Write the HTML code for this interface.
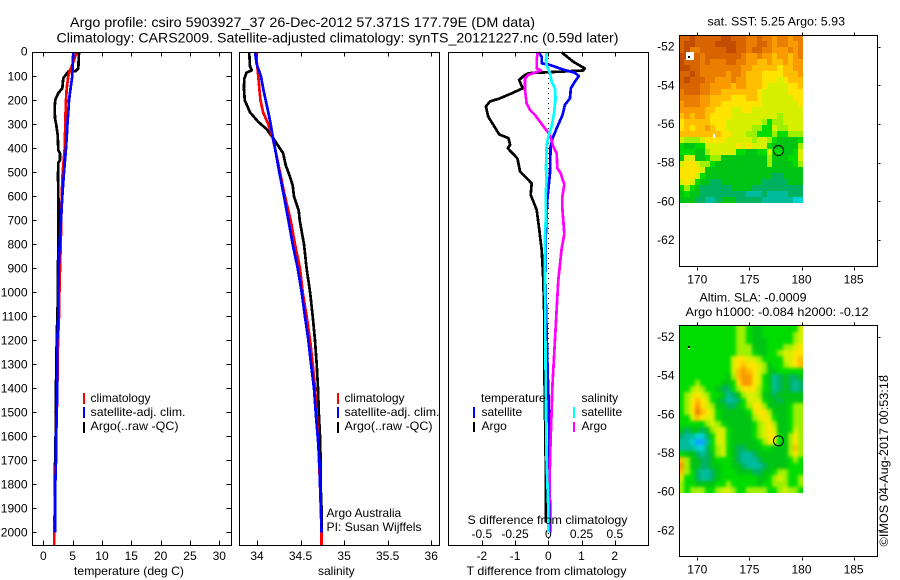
<!DOCTYPE html>
<html lang="en">
<head>
<meta charset="utf-8">
<title>Argo profile 5903927_37</title>
<style>
html,body{margin:0;padding:0;background:#fff;width:900px;height:580px;overflow:hidden}
svg{display:block}
text{font-family:"Liberation Sans",Arial,sans-serif;font-size:12px;fill:#000}
.ttl{font-size:14px}
.frame{fill:none;stroke:#000;stroke-width:1;shape-rendering:crispEdges}
</style>
</head>
<body>
<svg id="chart" width="900" height="580" viewBox="0 0 900 580" xmlns="http://www.w3.org/2000/svg">
  <defs>
    <filter id="soften" x="0" y="0" width="100%" height="100%" color-interpolation-filters="sRGB">
      <feGaussianBlur stdDeviation="1.6"/>
      <feComponentTransfer>
        <feFuncA type="discrete" tableValues="0 1 1 1"/>
      </feComponentTransfer>
    </filter>
  </defs>
  <rect x="0" y="0" width="900" height="580" fill="#fff"/>
  <text class="ttl" x="70" y="27" textLength="465" lengthAdjust="spacingAndGlyphs">Argo profile: csiro 5903927_37 26-Dec-2012 57.371S 177.79E (DM data)</text>
  <text class="ttl" x="56.5" y="42.5" textLength="562" lengthAdjust="spacingAndGlyphs">Climatology: CARS2009. Satellite-adjusted climatology: synTS_20121227.nc (0.59d later)</text>

  <g id="p1"></g>
  <g id="p2"></g>
  <g id="p3"></g>
  <g id="m1"></g>
  <g id="m2"></g>

  <rect class="frame" x="32.5" y="52.5" width="199" height="493"/>
  <rect class="frame" x="239.5" y="52.5" width="200" height="493"/>
  <rect class="frame" x="448.5" y="52.5" width="200" height="493"/>
  <rect class="frame" x="679.5" y="35.5" width="198" height="231"/>
  <rect class="frame" x="679.5" y="325.5" width="198" height="231"/>

  <text x="74" y="575" textLength="110" lengthAdjust="spacingAndGlyphs">temperature (deg C)</text>
  <text x="318" y="575">salinity</text>
  <text x="466.5" y="575" textLength="160" lengthAdjust="spacingAndGlyphs">T difference from climatology</text>
  <text x="467.5" y="524" textLength="160" lengthAdjust="spacingAndGlyphs">S difference from climatology</text>

  <g shape-rendering="crispEdges">
    <rect x="83" y="393" width="2" height="11" fill="#f00"/>
    <rect x="83" y="407" width="2" height="11" fill="#00f"/>
    <rect x="83" y="422" width="2" height="11" fill="#000"/>
  </g>
  <text x="90.5" y="402">climatology</text>
  <text x="90.5" y="416" textLength="95" lengthAdjust="spacingAndGlyphs">satellite-adj. clim.</text>
  <text x="90.5" y="430" textLength="88" lengthAdjust="spacingAndGlyphs">Argo(..raw -QC)</text>

  <g shape-rendering="crispEdges">
    <rect x="337" y="393" width="2" height="11" fill="#f00"/>
    <rect x="337" y="407" width="2" height="11" fill="#00f"/>
    <rect x="337" y="422" width="2" height="11" fill="#000"/>
  </g>
  <text x="344.5" y="402">climatology</text>
  <text x="344.5" y="416" textLength="95" lengthAdjust="spacingAndGlyphs">satellite-adj. clim.</text>
  <text x="344.5" y="430" textLength="88" lengthAdjust="spacingAndGlyphs">Argo(..raw -QC)</text>
  <text x="326.5" y="517">Argo Australia</text>
  <text x="326.5" y="531" textLength="95" lengthAdjust="spacingAndGlyphs">PI: Susan Wijffels</text>

  <text x="481" y="402">temperature</text>
  <text x="581.5" y="402">salinity</text>
  <g shape-rendering="crispEdges">
    <rect x="473" y="407" width="2" height="11" fill="#00f"/>
    <rect x="473" y="422" width="2" height="10" fill="#000"/>
    <rect x="573" y="407" width="2" height="11" fill="#0ff"/>
    <rect x="573" y="422" width="2" height="10" fill="#f0f"/>
  </g>
  <text x="481.5" y="416">satellite</text>
  <text x="481.5" y="430">Argo</text>
  <text x="581.5" y="416">satellite</text>
  <text x="581.5" y="430">Argo</text>

  <text x="707.5" y="25.5" textLength="137.5" lengthAdjust="spacingAndGlyphs">sat. SST: 5.25  Argo: 5.93</text>
  <text x="699.5" y="301.5" textLength="107" lengthAdjust="spacingAndGlyphs">Altim. SLA: -0.0009</text>
  <text x="685.5" y="316" textLength="183" lengthAdjust="spacingAndGlyphs">Argo h1000: -0.084 h2000: -0.12</text>
  <text transform="translate(888 546.5) rotate(-90)" textLength="171.5" lengthAdjust="spacingAndGlyphs">©IMOS 04-Aug-2017 00:53:18</text>
</svg>

<script>
// Depth and temperature / salinity profiles
const climDepths = [0,50,75,100,150,200,250,300,350,400,500,600,700,800,900,1000,1100,1200,1300,1400,1500,1600,1700,1800,1900,2000,2056];
const climTemp = [5.68,5.0,4.55,4.26,3.98,3.87,3.8,3.75,3.7,3.64,3.3,3.13,3.07,2.96,2.85,2.74,2.68,2.5,2.45,2.38,2.3,2.2,2.12,2.05,1.98,1.9,1.9];
const climSal = [33.99,34.0,34.008,34.015,34.026,34.04,34.07,34.13,34.176,34.207,34.264,34.32,34.387,34.436,34.494,34.525,34.57,34.61,34.64,34.666,34.685,34.70,34.712,34.723,34.732,34.74,34.74];

const satDepths = [0,50,100,150,200,250,300,350,400,500,600,700,800,900,1000,1100,1200,1300,1400,1500,1600,1700,1800,1900,2000];
const satTemp = [5.11,5.0,4.94,4.66,4.38,4.26,4.1,4.0,3.87,3.53,3.24,3.02,2.79,2.62,2.56,2.56,2.39,2.39,2.39,2.28,2.17,2.17,2.05,2.05,2.0];
const satSal = [33.977,33.996,34.046,34.07,34.1,34.13,34.157,34.18,34.207,34.256,34.31,34.36,34.41,34.467,34.513,34.55,34.59,34.62,34.654,34.674,34.697,34.716,34.723,34.735,34.74];

const argoTempDepths = [0,67,78,80,108,150,170,198,226,275,303,345,407,421,449,460,518,573,670,800,900,1000,1200,1500,1600,1800,1900,2000];
const argoTemp = [6.08,5.97,5.57,4.26,3.41,3.24,2.56,2.05,1.94,1.99,2.22,2.45,2.56,2.85,2.85,2.56,2.5,2.55,2.6,2.55,2.5,2.5,2.28,2.1,2.1,1.94,1.94,1.9];

const argoSalDepths = [0,60,75,85,110,150,200,250,290,320,350,380,420,470,520,555,600,660,700,800,900,1000,1100,1200,1300,1400,1500,1600,1700,1800,1900,2000];
const argoSal = [33.91,33.92,33.94,33.88,33.854,33.85,33.86,33.92,34.015,34.11,34.17,34.226,34.30,34.33,34.38,34.41,34.425,34.48,34.49,34.54,34.57,34.61,34.64,34.666,34.685,34.70,34.71,34.723,34.73,34.73,34.74,34.742];

// Differences from climatology
const dArgoTDepths = [0,39,67,76,82,87,99,115,150,171,192,205,226,268,312,342,358,386,400,442,497,546,594,657,740,824,949,1100,1300,1500,1800,1960];
const dArgoT = [0.40,0.75,1.10,1.05,0.15,-0.60,-0.75,-0.88,-0.77,-1.10,-1.46,-1.76,-1.88,-1.81,-1.61,-1.48,-1.2,-1.15,-1.22,-0.93,-0.85,-0.5,-0.53,-0.35,-0.27,-0.2,-0.15,-0.12,-0.12,-0.1,-0.07,-0.07];

const dSatTDepths = [0,18,46,53,60,74,85,99,122,150,192,219,261,317,358,393,504,615,726,949,1324,1500,1900,2000];
const dSatT = [-0.3,-0.2,-0.2,0.05,0.2,0.5,0.8,0.92,0.8,0.68,0.65,0.5,0.43,0.25,0.13,0.07,0.05,-0.03,-0.07,-0.09,-0.02,0.02,0.05,0.05];

const dArgoSDepths = [0,32,67,76,94,108,157,212,240,261,289,317,344,393,421,483,504,550,604,646,757,820,949,1324,1400,1500,1600,1700,2000];
const dArgoS = [-0.08,-0.088,-0.088,-0.055,-0.15,-0.175,-0.175,-0.163,-0.138,-0.10,-0.063,-0.025,0.0125,0.0376,0.063,0.068,0.093,0.12,0.105,0.105,0.12,0.10,0.075,0.0376,0.03,0.025,0.018,0.0125,0.005];

const dSatSDepths = [0,32,53,88,122,150,192,254,310,351,393,483,532,601,671,768,949,1324,1500,1700,1900,2000];
const dSatS = [-0.0125,-0.0175,-0.0125,0.0125,0.025,0.05,0.055,0.043,0.025,0,-0.0125,-0.0175,-0.0125,-0.02,-0.0175,-0.025,-0.025,-0.02,-0.0175,-0.0125,0,0];

// Tick labels
const depthTicks = [0,100,200,300,400,500,600,700,800,900,1000,1100,1200,1300,1400,1500,1600,1700,1800,1900,2000];
const tempTicks = [0,5,10,15,20,25,30];
const salTicks = [34,34.5,35,35.5,36];
const dTTicks = [-2,-1,0,1,2];
const dSTicks = [-0.5,-0.25,0,0.25,0.5];
const lonTicks = [170,175,180,185];
const latTicks = [-52,-54,-56,-58,-60,-62];

// Argo float position
const argoLon = 177.79;
const argoLat = -57.371;

// Map colour levels (0 warm/high ... 13 cold/low)
const sstLevels = [
[1,1,0,1,1,1,1,1,0,0,1,1,1,2,2,1,2,2,3,2,2,3,2,2],
[1,0,0,1,1,1,1,0,0,0,0,1,1,2,2,1,1,2,3,2,2,3,3,2],
[1,0,2,2,1,1,1,1,1,0,0,1,1,2,1,1,2,2,3,3,3,2,3,2],
[0,0,1,1,2,1,1,1,1,1,1,1,2,3,3,2,3,3,4,3,3,4,3,2],
[0,1,1,1,2,1,2,2,2,1,1,2,2,3,3,4,4,3,4,4,3,4,3,3],
[0,0,1,1,2,2,2,2,2,2,2,2,3,3,4,4,4,4,4,5,4,4,3,3],
[1,1,0,1,2,2,2,2,2,3,2,2,3,4,4,4,5,5,5,5,4,4,4,3],
[1,0,1,1,1,2,2,3,3,3,2,3,3,4,4,4,5,5,5,6,5,4,4,4],
[1,1,1,1,2,2,3,3,3,3,4,3,3,4,4,4,5,6,6,6,6,5,5,4],
[2,1,1,1,2,2,3,3,4,4,4,4,4,4,4,5,6,6,6,6,6,5,5,5],
[2,2,2,2,3,3,4,4,4,4,5,5,5,4,4,5,6,6,6,6,6,6,5,5],
[3,2,2,2,3,3,4,4,5,5,5,5,5,5,5,5,6,6,6,6,6,6,6,5],
[3,3,3,3,3,4,4,5,5,5,6,6,5,5,6,6,6,6,6,6,6,6,6,6],
[4,3,4,3,3,4,5,5,5,5,6,6,6,6,6,6,6,6,6,7,6,6,6,6],
[5,4,4,4,4,4,5,5,5,6,6,6,6,6,6,6,7,8,7,7,6,6,6,6],
[5,4,5,4,4,3,4,5,5,6,6,6,6,6,7,7,8,8,6,7,7,6,6,6],
[4,4,4,4,4,4,4,4,5,5,6,6,6,7,7,8,8,8,7,8,8,7,7,7],
[6,7,7,7,6,5,5,5,5,6,6,6,6,6,7,6,6,7,8,9,9,9,9,8],
[8,9,9,8,8,6,6,6,6,6,6,5,6,5,6,6,6,8,9,9,9,9,9,7],
[8,8,8,9,9,7,6,6,6,6,6,8,8,9,9,8,8,6,8,8,9,9,8,6],
[9,6,6,9,9,8,7,7,9,9,9,9,9,9,9,9,9,7,9,9,9,8,8,6],
[6,5,5,6,7,7,8,9,9,9,9,9,9,9,9,9,9,7,9,9,9,9,8,7],
[5,5,5,5,6,9,9,9,9,9,9,9,9,9,9,9,9,9,9,9,9,9,9,9],
[5,5,5,6,8,9,9,9,9,9,9,9,9,9,9,9,9,9,10,10,9,9,9,9],
[6,5,6,8,9,9,10,10,9,9,9,9,9,9,9,9,10,10,10,10,10,9,9,9],
[8,7,8,9,10,10,10,10,10,10,9,9,9,9,10,10,10,10,10,10,10,10,10,10],
[9,8,9,9,10,10,10,10,10,10,10,10,10,11,11,11,10,11,11,11,11,10,10,10],
[9,9,9,10,10,11,11,10,9,9,9,10,10,10,10,10,11,11,11,11,11,11,12,12]
];
const slaLevels = [
[8,8,8,8,8,8,8,8,8,8,8,7,7,8,9,9,8,8,8,8,8,8,8,6],
[8,8,8,8,8,8,8,8,8,8,8,7,7,8,9,9,8,8,8,8,8,8,7,6],
[8,8,8,8,8,8,8,8,8,8,8,7,7,8,9,9,9,8,8,8,8,8,7,6],
[8,8,8,8,8,8,8,8,8,8,8,7,7,7,9,9,9,8,8,8,7,7,6,5],
[8,8,8,8,8,8,8,8,8,8,8,7,7,7,8,9,9,8,8,7,6,6,5,5],
[8,8,8,8,8,8,8,8,8,8,6,5,5,6,6,7,8,8,8,8,6,6,5,4],
[8,8,8,8,8,8,8,8,8,8,6,5,4,5,5,6,7,9,8,8,7,6,5,4],
[8,8,8,8,8,8,8,8,8,8,6,4,3,4,5,6,7,9,9,8,8,8,8,8],
[8,8,8,8,8,8,8,8,8,9,7,4,3,3,5,6,8,9,11,10,9,10,10,9],
[8,8,8,7,8,8,8,8,9,9,8,5,3,3,5,6,8,9,11,10,9,10,11,10],
[8,8,7,6,7,8,8,9,10,10,8,7,5,5,5,7,8,9,11,10,9,10,11,10],
[8,7,6,5,6,7,8,8,9,11,10,9,7,6,6,7,9,9,10,9,9,9,9,9],
[8,7,5,4,5,6,8,9,10,11,11,10,8,6,6,6,8,9,9,10,9,9,9,9],
[8,7,5,3,5,6,7,9,9,10,10,9,8,7,5,5,7,9,9,9,9,8,7,7],
[8,7,5,2,4,5,6,8,9,9,9,9,9,8,6,5,5,7,9,9,9,8,7,7],
[8,8,6,4,5,6,6,8,9,9,9,9,9,9,7,6,5,6,8,9,9,8,7,7],
[8,8,8,8,8,7,6,7,8,9,9,9,9,9,8,7,6,5,7,9,9,8,7,7],
[9,10,9,9,10,9,7,6,6,8,9,9,9,9,8,7,6,5,6,9,9,8,6,7],
[10,11,11,12,12,10,8,6,6,8,9,9,9,9,8,7,6,5,5,8,9,7,5,7],
[11,11,12,13,13,11,8,6,6,8,9,9,9,9,9,8,7,5,6,8,9,7,5,7],
[11,11,11,12,12,10,8,7,6,8,9,10,10,9,9,9,8,8,9,9,9,7,4,7],
[8,9,9,10,11,10,9,7,6,8,9,10,11,11,10,9,9,9,9,9,9,7,5,7],
[4,7,9,9,10,10,9,8,8,8,9,10,11,11,11,10,9,9,9,9,9,8,7,8],
[3,7,9,9,10,10,9,9,8,8,9,9,10,11,11,11,10,9,9,9,9,8,8,8],
[4,7,8,10,11,11,10,9,8,8,8,9,9,9,10,10,9,9,8,7,7,8,8,8],
[6,8,8,10,11,11,10,9,8,8,8,8,8,8,8,9,9,8,7,6,7,8,8,7],
[7,8,8,9,9,9,9,8,8,7,8,8,8,8,8,9,8,8,7,7,7,8,8,7],
[7,8,7,7,7,8,8,7,6,6,7,8,8,7,7,7,7,8,8,7,6,7,7,8]
];

const NS = 'http://www.w3.org/2000/svg';
const palette = ['#c24c00','#d86400','#ea7e00','#f89a00','#ffbe00','#ffe400','#d6f000','#9cf000','#00dc00','#00c414','#00b260','#00bc9c','#00d4d0','#10a0ff'];

// Axis functions
const yDepth = d => 52.3 + d * 0.24;
const xTemp = t => 43.3 + t * 5.867;
const xSal = s => 257 + (s - 34) * 87.1;
const xDT = v => 548.3 + v * 33.2;
const xDS = v => 548.3 + v * 133;
const xLon = lon => 697.3 + (lon - 170) * 10.42;
const yLat1 = lat => 46.7 + (-52 - lat) * 19.33;
const yLat2 = lat => 337 + (-52 - lat) * 19.33;

function tick(parent, x1, y1, x2, y2) {
  const el = document.createElementNS(NS, 'line');
  
  
  el.setAttribute('x1', Math.round(x1) + 0.5);
  el.setAttribute('y1', Math.round(y1) + 0.5);
  el.setAttribute('x2', Math.round(x2) + 0.5);
  el.setAttribute('y2', Math.round(y2) + 0.5);
  el.setAttribute('stroke', '#000');
  el.setAttribute('shape-rendering', 'crispEdges');
  parent.appendChild(el);
}
function label(parent, x, y, str, anchor) {
  const el = document.createElementNS(NS, 'text');
  
  
  el.setAttribute('x', x);
  el.setAttribute('y', y);
  el.setAttribute('text-anchor', anchor);
  el.textContent = str;
  parent.appendChild(el);
}
function profile(parent, depths, values, xFn, color, name) {
  const el = document.createElementNS(NS, 'polyline');
  
  
  el.setAttribute('points', depths.map((d, i) => xFn(values[i]).toFixed(1) + ',' + yDepth(d).toFixed(1)).join(' '));
  el.setAttribute('fill', 'none');
  el.setAttribute('stroke', color);
  el.setAttribute('stroke-width', '2.7');
  el.setAttribute('stroke-linejoin', 'round');
  el.setAttribute('shape-rendering', 'crispEdges');
  parent.appendChild(el);
}
function heatmap(parent, rows, yFn, name) {
  const lonStart = 168.27, lonStep = 0.496, latStart = -51.41, latStep = 0.31;
  rows.forEach((row, r) => {
    row.forEach((v, c) => {
      const x0 = Math.round(xLon(lonStart + c * lonStep));
      const x1 = Math.round(xLon(lonStart + (c + 1) * lonStep));
      const y0 = Math.round(yFn(latStart - r * latStep));
      const y1 = Math.round(yFn(latStart - (r + 1) * latStep));
      const el = document.createElementNS(NS, 'rect');
      
      
      el.setAttribute('x', x0);
      el.setAttribute('y', y0);
      el.setAttribute('width', x1 - x0);
      el.setAttribute('height', y1 - y0);
      el.setAttribute('fill', palette[v]);
      el.setAttribute('shape-rendering', 'crispEdges');
      parent.appendChild(el);
    });
  });
}
function mapFurniture(parent, yFn, top, bottom, name) {
  lonTicks.forEach(v => {
    tick(parent, xLon(v), top - 3, xLon(v), top);
    tick(parent, xLon(v), bottom, xLon(v), bottom + 3);
    label(parent, xLon(v), bottom + 16.5, String(v), 'middle');
  });
  latTicks.forEach(v => {
    tick(parent, 878, yFn(v), 880, yFn(v));
    label(parent, 674.5, yFn(v) + 4, String(v), 'end');
  });
  const c = document.createElementNS(NS, 'circle');
  
  
  c.setAttribute('cx', xLon(argoLon));
  c.setAttribute('cy', yFn(argoLat));
  c.setAttribute('r', 5);
  c.setAttribute('fill', 'none');
  c.setAttribute('stroke', '#000');
  parent.appendChild(c);
}
function speck(parent, x, y, w, h, color, name) {
  const el = document.createElementNS(NS, 'rect');
  
  
  el.setAttribute('x', x);
  el.setAttribute('y', y);
  el.setAttribute('width', w);
  el.setAttribute('height', h);
  el.setAttribute('fill', color);
  el.setAttribute('shape-rendering', 'crispEdges');
  parent.appendChild(el);
}

const p1 = document.getElementById('p1');
const p2 = document.getElementById('p2');
const p3 = document.getElementById('p3');
const m1 = document.getElementById('m1');
const m2 = document.getElementById('m2');

// Panel 1: temperature
depthTicks.forEach(d => {
  tick(p1, 32, yDepth(d), 36, yDepth(d));
  tick(p1, 226, yDepth(d), 231, yDepth(d));
  label(p1, 27.5, yDepth(d) + (d === 0 ? 3 : 4), String(d), 'end');
});
tempTicks.forEach(t => {
  tick(p1, xTemp(t), 52, xTemp(t), 56);
  tick(p1, xTemp(t), 540, xTemp(t), 545);
  label(p1, xTemp(t), 560, String(t), 'middle');
});
profile(p1, argoTempDepths, argoTemp, xTemp, '#000', 'argo-temperature-line');
profile(p1, climDepths, climTemp, xTemp, '#f00', 'climatology-temperature-line');
profile(p1, satDepths, satTemp, xTemp, '#00f', 'satellite-temperature-line');

// Panel 2: salinity
salTicks.forEach(s => {
  tick(p2, xSal(s), 52, xSal(s), 56);
  tick(p2, xSal(s), 540, xSal(s), 545);
  label(p2, xSal(s), 560, String(s), 'middle');
});
profile(p2, argoSalDepths, argoSal, xSal, '#000', 'argo-salinity-line');
profile(p2, climDepths, climSal, xSal, '#f00', 'climatology-salinity-line');
profile(p2, satDepths, satSal, xSal, '#00f', 'satellite-salinity-line');

// Panel 3: differences
dTTicks.forEach(v => {
  tick(p3, xDT(v), 52, xDT(v), 56);
  tick(p3, xDT(v), 540, xDT(v), 545);
  label(p3, xDT(v), 560, String(v), 'middle');
});
dSTicks.forEach(v => {
  label(p3, xDS(v), 538, String(v), 'middle');
});
const zeroLine = document.createElementNS(NS, 'line');


zeroLine.setAttribute('x1', Math.round(xDT(0)) + 0.5);
zeroLine.setAttribute('x2', Math.round(xDT(0)) + 0.5);
zeroLine.setAttribute('y1', 53);
zeroLine.setAttribute('y2', 545);
zeroLine.setAttribute('stroke', '#000');
zeroLine.setAttribute('stroke-dasharray', '1 4');
zeroLine.setAttribute('shape-rendering', 'crispEdges');
p3.appendChild(zeroLine);
profile(p3, dArgoTDepths, dArgoT, xDT, '#000', 'argo-t-difference-line');
profile(p3, dSatTDepths, dSatT, xDT, '#00f', 'satellite-t-difference-line');
profile(p3, dArgoSDepths, dArgoS, xDS, '#f0f', 'argo-s-difference-line');
profile(p3, dSatSDepths, dSatS, xDS, '#0ff', 'satellite-s-difference-line');

// Maps
heatmap(m1, sstLevels, yLat1, 'sst-cell');
speck(m1, 686, 52, 8, 8, '#fff', 'sst-missing-patch');
speck(m1, 688, 56, 2, 2, '#000', 'sst-coast-speck');
speck(m1, 713, 134, 2, 4, '#fff', 'sst-missing-speck');
mapFurniture(m1, yLat1, 35, 267, 'argo-position-marker-sst');

const slaCells = document.createElementNS(NS, 'g');


slaCells.setAttribute('filter', 'url(#soften)');
m2.appendChild(slaCells);
heatmap(slaCells, slaLevels, yLat2, 'sla-cell');
speck(m2, 688, 346, 2, 2, '#000', 'sla-coast-speck');
speck(m2, 688, 348, 2, 1, '#fff', 'sla-missing-speck');
mapFurniture(m2, yLat2, 325, 557, 'argo-position-marker-sla');
</script>
</body>
</html>
